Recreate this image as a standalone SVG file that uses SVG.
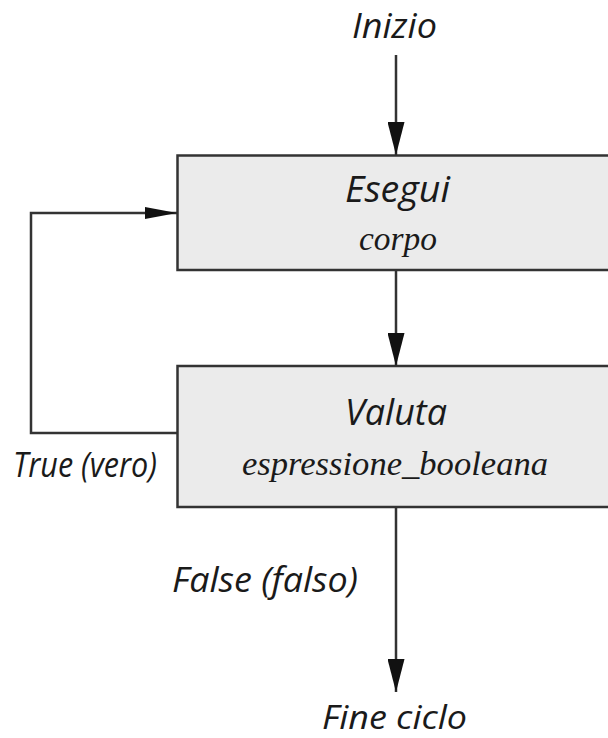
<svg xmlns="http://www.w3.org/2000/svg" width="608" height="738" viewBox="0 0 608 738">
<style>
.box{fill:#ebebeb;stroke:#333;stroke-width:2.5}
.ln{fill:none;stroke:#333;stroke-width:2.5}
.sans{font-family:"Open Sans","Liberation Sans",sans-serif;font-style:italic;fill:#1a1a1a}
.serif{font-family:"Liberation Serif","DejaVu Serif",serif;font-style:italic;fill:#1a1a1a}
</style>
<defs>
<marker id="ah" markerWidth="32" markerHeight="12" refX="32" refY="6" orient="auto" markerUnits="userSpaceOnUse" viewBox="0 0 32 12">
<path d="M0,0 L32,6 L0,12 Z" fill="#111"/>
</marker>
<marker id="av" markerWidth="33" markerHeight="17" refX="33" refY="8.5" orient="auto" markerUnits="userSpaceOnUse" viewBox="0 0 33 17">
<path d="M0,0 L33,8.5 L0,17 Z" fill="#111"/>
</marker>
</defs>
<g id="start"><text class="sans" x="352" y="38" font-size="35" textLength="85" lengthAdjust="spacingAndGlyphs">Inizio</text></g>
<g id="esegui">
<rect class="box" x="177.5" y="155.5" width="440" height="114.5"/>
<text class="sans" x="345" y="202" font-size="36" textLength="105" lengthAdjust="spacingAndGlyphs">Esegui</text>
<text class="serif" x="359" y="250" font-size="34" textLength="78" lengthAdjust="spacingAndGlyphs">corpo</text>
</g>
<g id="valuta">
<rect class="box" x="177.5" y="366" width="440" height="141"/>
<text class="sans" x="345" y="425" font-size="36" textLength="102" lengthAdjust="spacingAndGlyphs">Valuta</text>
<text class="serif" x="242" y="475" font-size="34" textLength="306" lengthAdjust="spacingAndGlyphs">espressione_booleana</text>
</g>
<g id="end"><text class="sans" x="322" y="729" font-size="32" textLength="145" lengthAdjust="spacingAndGlyphs">Fine ciclo</text></g>
<g id="connectors">
<line class="ln" x1="396" y1="55" x2="396" y2="155" marker-end="url(#av)"/>
<line class="ln" x1="396" y1="270" x2="396" y2="366" marker-end="url(#av)"/>
<line class="ln" x1="396" y1="507" x2="396" y2="692" marker-end="url(#av)"/>
<polyline class="ln" points="177.5,433 31,433 31,213 177,213" marker-end="url(#ah)"/>
<text class="sans" x="13" y="477" font-size="34" textLength="144" lengthAdjust="spacingAndGlyphs">True (vero)</text>
<text class="sans" x="172" y="592" font-size="34" textLength="186" lengthAdjust="spacingAndGlyphs">False (falso)</text>
</g>
</svg>
